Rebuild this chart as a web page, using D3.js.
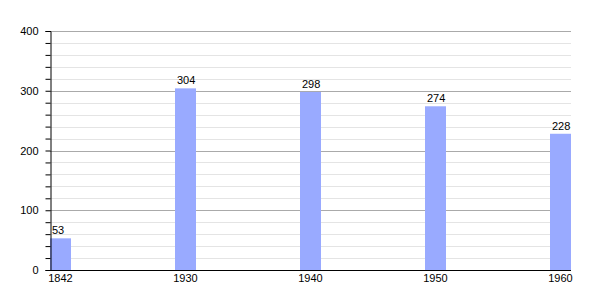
<!DOCTYPE html>
<html><head><meta charset="utf-8">
<script src="https://cdn.jsdelivr.net/npm/d3@7"></script>
<style>body{margin:0;background:#fff}svg{display:block}text{font-family:"Liberation Sans",Arial,sans-serif;font-size:11px;fill:#000}</style>
</head><body>
<script>
const categories = ["1842","1930","1940","1950","1960"];
const values = [53,304,298,274,228];
const majorTicks = [0,100,200,300,400];
const minorTicks = d3.range(0,401,20);

(function(){
const W=600,H=300, mLeft=50, mRight=571, mTop=31, mBottom=270, barW=21;
const svg=d3.select("body").append("svg").attr("width",W).attr("height",H);
const x=d3.scalePoint().domain(categories).range([mLeft,mRight-barW]);
const y=d3.scaleLinear().domain([0,400]).range([mBottom,mTop]);

svg.append("g").selectAll("line").data(minorTicks.filter(t=>t%100!==0)).join("line")
 .attr("x1",mLeft).attr("x2",mRight).attr("y1",d=>Math.round(y(d))+0.5).attr("y2",d=>Math.round(y(d))+0.5)
 .attr("stroke","#e4e4e4");
svg.append("g").selectAll("line").data(majorTicks.filter(t=>t>0)).join("line")
 .attr("x1",mLeft).attr("x2",mRight).attr("y1",d=>Math.round(y(d))+0.5).attr("y2",d=>Math.round(y(d))+0.5)
 .attr("stroke","#aaaaaa");

svg.append("g").selectAll("rect").data(values).join("rect")
 .attr("x",(d,i)=>x(categories[i])).attr("width",barW)
 .attr("y",d=>y(d)).attr("height",d=>mBottom-y(d)).attr("fill","#99aaff");

svg.append("g").selectAll("text").data(values).join("text")
 .attr("x",(d,i)=>x(categories[i])+2).attr("y",d=>y(d)-4).text(d=>d);

const ya=svg.append("g").attr("transform",`translate(${mLeft+0.5},0)`)
 .call(d3.axisLeft(y).tickValues(minorTicks).tickSize(5).tickFormat(d=>majorTicks.includes(d)?d:""));
ya.select(".domain").attr("stroke","#000");
ya.selectAll(".tick line").attr("stroke","#000");
ya.selectAll(".tick text").attr("x",-12).style("font-size","11px").style("font-family","Liberation Sans, Arial, sans-serif");

svg.append("line").attr("x1",mLeft).attr("x2",mRight).attr("y1",mBottom+0.5).attr("y2",mBottom+0.5).attr("stroke","#000");

svg.append("g").selectAll("text.cat").data(categories).join("text").attr("class","cat")
 .attr("x",d=>x(d)+barW/2).attr("y",mBottom+12).attr("text-anchor","middle").text(d=>d);
})();
</script>
</body></html>
